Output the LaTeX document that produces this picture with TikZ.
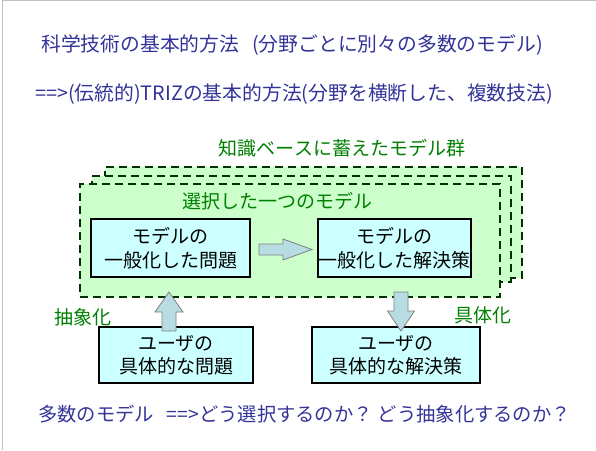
\documentclass[tikz,border=0pt]{standalone}
\usepackage{fontspec}
\setmainfont{Noto Sans CJK JP}
\usetikzlibrary{calc}
\definecolor{titleblue}{HTML}{333399}
\definecolor{lblgreen}{HTML}{008000}
\definecolor{dgreen}{HTML}{003300}
\definecolor{lgreen}{HTML}{CCFFCC}
\definecolor{lcyan}{HTML}{CCFFFF}
\definecolor{arrfill}{HTML}{B7DDE3}
\definecolor{framegray}{HTML}{C0C0C0}
\begin{document}
\begin{tikzpicture}[x=1pt,y=-1pt,
  headline/.style={text=titleblue, font=\fontsize{19.8}{23}\selectfont, anchor=west, inner sep=0, text height=0.88em, text depth=0.12em},
  footline/.style={text=titleblue, font=\fontsize{19.3}{23}\selectfont, anchor=west, inner sep=0, text height=0.88em, text depth=0.12em},
  grlabel/.style={text=lblgreen, font=\fontsize{19}{23}\selectfont, inner sep=0, text height=0.88em, text depth=0.12em},
  modelcard/.style={draw=dgreen, line width=2pt, dash pattern=on 8pt off 5pt, fill=lgreen, inner sep=0},
  stepbox/.style={draw=black, line width=2pt, fill=lcyan, inner sep=0, align=center, font=\fontsize{19}{23.5}\selectfont},
  blockarrow/.style={fill=arrfill, draw=gray, line width=0.8pt, line join=miter},
]
\useasboundingbox (0,0) rectangle (596,450);
\draw[framegray, line width=1.2pt] (2.5,450) -- (2.5,0.6) -- (596,0.6);

% headlines
\node[headline] (t1) at (41,47.5) {科学技術の基本的方法\hspace{13pt}(分野ごとに別々の多数のモデル)};
\node[headline] (t2) at (35,96.5) {==>(伝統的)TRIZの基本的方法(分野を横断した、複数技法)};

% stacked model cards
\node[modelcard, minimum width=417pt, minimum height=111pt] (card3) at (313.5,222.5) {};
\node[modelcard, minimum width=419pt, minimum height=106pt] (card2) at (301.5,229) {};
\node[modelcard, minimum width=420pt, minimum height=113pt] (card1) at (290,240.5) {};

\node[grlabel] (kb) at (342,152) {知識ベースに蓄えたモデル群};
\node[grlabel] (sel) at (277.5,204.5) {選択した一つのモデル};

% model boxes
\node[stepbox, minimum width=159pt, minimum height=58pt] (A) at (170.5,248) {モデルの\\一般化した問題};
\node[stepbox, minimum width=153pt, minimum height=58pt] (B) at (394.5,248) {モデルの\\一般化した解決策};

\path (A.east) ++(8,1.5) coordinate (raS);
\draw[blockarrow] (raS) ++(0,-5.5) -- ++(24,0) -- ++(0,-5) -- ++(29,10.5) -- ++(-29,10.5) -- ++(0,-5) -- ++(-24,0) -- cycle;

% user boxes
\node[stepbox, minimum width=154pt, minimum height=56pt] (C) at (176,355) {ユーザの\\具体的な問題};
\node[stepbox, minimum width=168pt, minimum height=56pt] (D) at (396,355) {ユーザの\\具体的な解決策};

% up arrow (abstraction)
\path (C.north) ++(-7,5) coordinate (uaS);
\draw[blockarrow] (uaS) ++(-7,0) -- ++(0,-19) -- ++(-7,0) -- ++(14,-20) -- ++(14,20) -- ++(-7,0) -- ++(0,19) -- cycle;

% down arrow (concretization)
\path (D.north) ++(5,5) coordinate (daT);
\draw[blockarrow] (daT) -- ++(-13.5,-20) -- ++(6.5,0) -- ++(0,-19) -- ++(14,0) -- ++(0,19) -- ++(6.5,0) -- cycle;

\node[grlabel] (abs) at (82.5,321) {抽象化};
\node[grlabel] (con) at (483,319) {具体化};

% footer
\node[footline] (t3) at (38,418) {多数のモデル\hspace{13pt}==>どう選択するのか？\hspace{5pt}どう抽象化するのか？};
\end{tikzpicture}
\end{document}
